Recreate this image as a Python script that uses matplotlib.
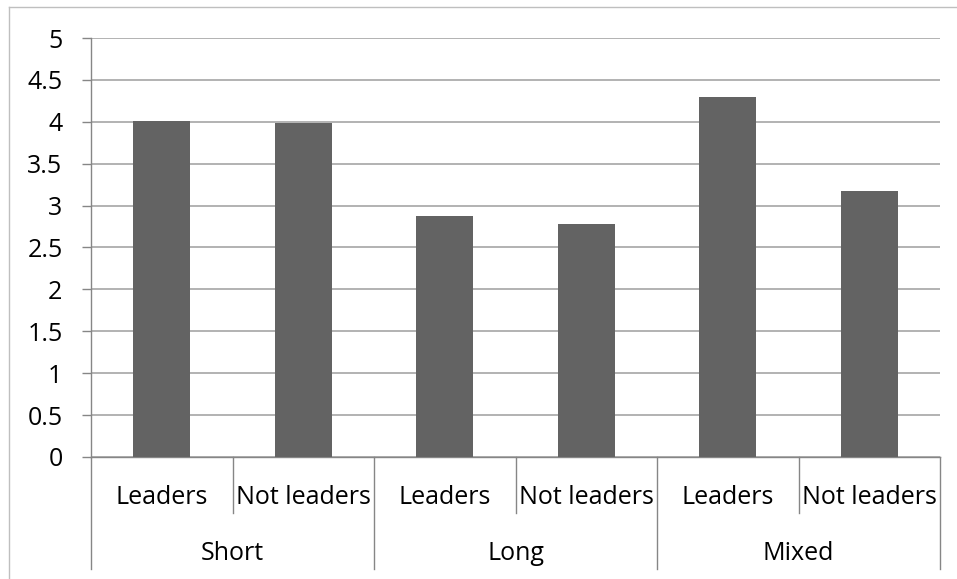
import numpy as np
import matplotlib.pyplot as plt
from matplotlib.lines import Line2D
from matplotlib.transforms import blended_transform_factory

groups = ["Short", "Long", "Mixed"]
subgroups = ["Leaders", "Not leaders"]
values = [4.01, 3.99, 2.87, 2.78, 4.30, 3.18]

plt.rcParams['font.family'] = ['Open Sans', 'DejaVu Sans']

W, H = 957, 579
fig = plt.figure(figsize=(W / 100, H / 100), dpi=100)

# plot area in pixels: x 91..940, y 38..457
ax = fig.add_axes([91 / W, (H - 457) / H, 849 / W, 419 / H])

x = np.arange(len(values))
ax.bar(x, values, width=0.4, color='#636363', zorder=3)

ax.set_xlim(-0.5, len(values) - 0.5)
ax.set_ylim(0, 5)
ax.set_yticks(np.arange(0, 5.01, 0.5))
ax.set_yticklabels(['0', '0.5', '1', '1.5', '2', '2.5', '3', '3.5', '4', '4.5', '5'])
ax.yaxis.grid(True, color='#a6a6a6', linewidth=1.2, zorder=0)
ax.tick_params(axis='y', length=6.5, width=1, color='#868686', pad=14,
               labelsize=18, labelcolor='black')
ax.set_xticks([])

for s in ['top', 'right']:
    ax.spines[s].set_visible(False)
for s in ['left', 'bottom']:
    ax.spines[s].set_color('#868686')
    ax.spines[s].set_linewidth(1)

trans = blended_transform_factory(ax.transData, ax.transAxes)
row1_y = -40 / 419
row2_y = -96 / 419
inner_bottom = -56 / 419
outer_bottom = -112 / 419

# subcategory labels
for i in range(len(values)):
    ax.text(i, row1_y, subgroups[i % 2], transform=trans, ha='center',
            va='center', fontsize=18)

# group labels
for g, name in enumerate(groups):
    ax.text(2 * g + 0.5, row2_y, name, transform=trans, ha='center',
            va='center', fontsize=18)

# separators
for g in range(len(groups)):
    ax.plot([2 * g + 0.5, 2 * g + 0.5], [0, inner_bottom], transform=trans,
            color='#868686', lw=1, clip_on=False)
for b in range(len(groups) + 1):
    ax.plot([2 * b - 0.5, 2 * b - 0.5], [0, outer_bottom], transform=trans,
            color='#868686', lw=1, clip_on=False)

# outer chart frame (left and top)
fig.add_artist(Line2D([9 / W, 9 / W], [0, 1 - 7 / H], color='#bfbfbf', lw=1))
fig.add_artist(Line2D([9 / W, 1], [1 - 7 / H, 1 - 7 / H], color='#bfbfbf', lw=1))

fig.savefig('out.png', dpi=100)
